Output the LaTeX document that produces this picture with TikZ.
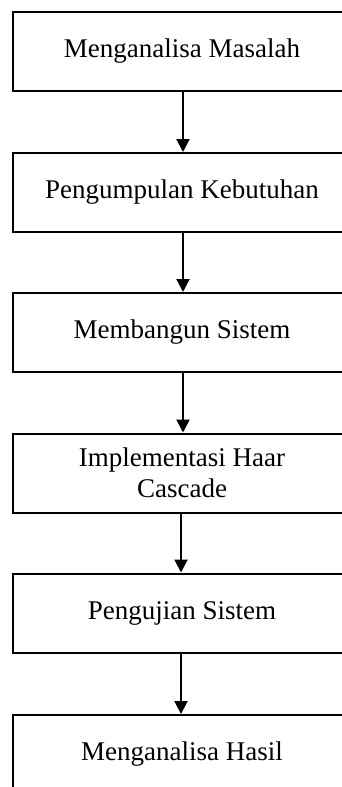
\documentclass[tikz,border=0pt]{standalone}
\usepackage{fontspec}
\setmainfont{Liberation Serif}
\usetikzlibrary{arrows.meta}
\tikzset{
  stepbox/.style={draw=black, line width=2pt, minimum width=338pt, minimum height=79pt,
    inner sep=0pt, align=center, font=\fontsize{27}{31}\selectfont},
  flow/.style={line width=2pt, -{Triangle[length=13pt,width=13pt]}}
}
\begin{document}
\begin{tikzpicture}[x=1pt,y=-1pt]
\useasboundingbox (0,0) rectangle (342,787);
\clip (0,0) rectangle (342,787);
\node[stepbox] (a) at (182,51.5) {Menganalisa Masalah};
\node[stepbox] (b) at (182,192.5) {Pengumpulan Kebutuhan};
\node[stepbox] (c) at (182,332.5) {Membangun Sistem};
\node[stepbox] (d) at (182,473) {Implementasi Haar\\Cascade};
\node[stepbox] (e) at (182,613) {Pengujian Sistem};
\node[stepbox] (f) at (182,754.5) {Menganalisa Hasil};
\draw[flow] ([xshift=1pt]a.south) -- ([xshift=1pt]b.north);
\draw[flow] ([xshift=1pt]b.south) -- ([xshift=1pt]c.north);
\draw[flow] ([xshift=1pt]c.south) -- ([xshift=1pt]d.north);
\draw[flow] ([xshift=-1pt]d.south) -- ([xshift=-1pt]e.north);
\draw[flow] ([xshift=-1pt]e.south) -- ([xshift=-1pt]f.north);
\end{tikzpicture}
\end{document}
